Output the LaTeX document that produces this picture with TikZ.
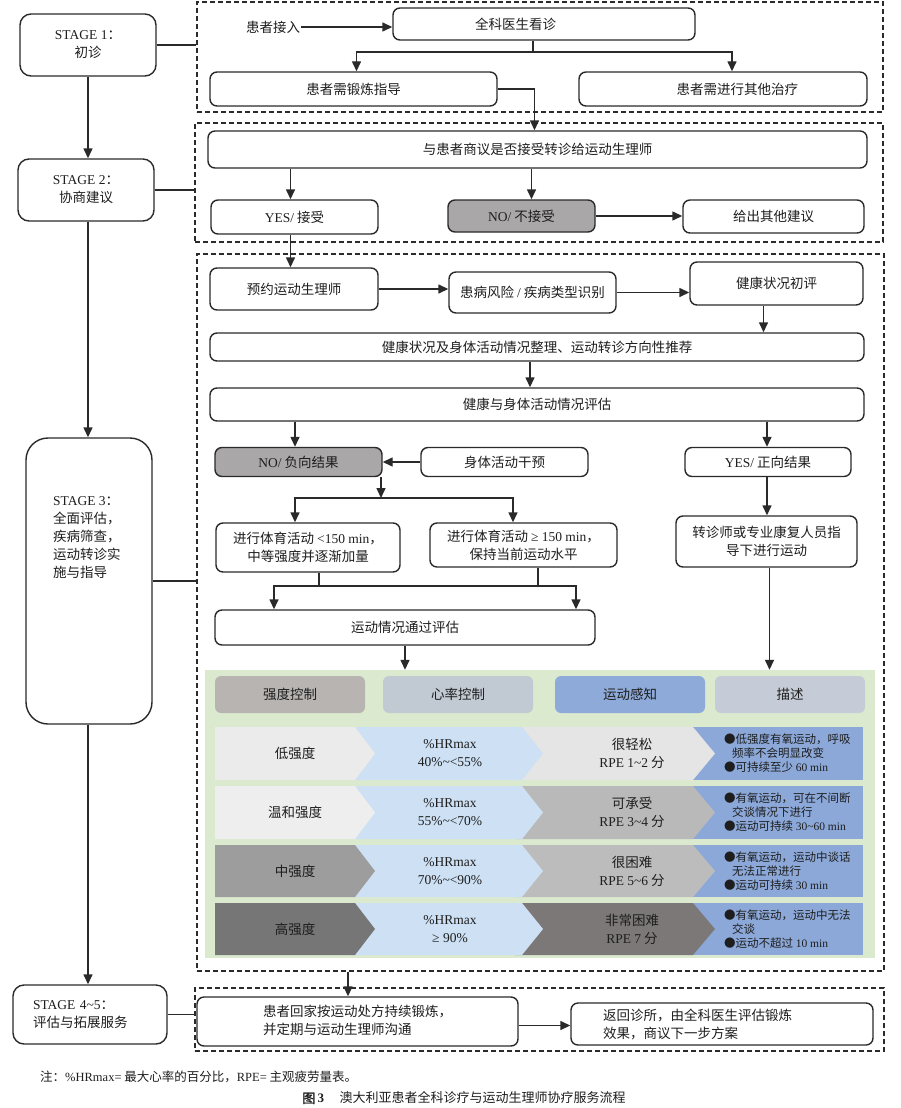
\documentclass[tikz,border=0pt]{standalone}
\usepackage{fontspec}
\setmainfont{Liberation Serif}
\newfontfamily\cjk{Noto Sans CJK SC}
\newfontfamily\cjkb[FakeBold=1.5]{Noto Sans CJK SC}
\usetikzlibrary{arrows.meta}
\newcommand\latn[1]{{\rmfamily #1}}
\newcommand\tfont{\cjk\fontsize{13.5}{18}\selectfont}
\newcommand\dfont{\cjk\fontsize{11.5}{14}\selectfont}
\definecolor{lc}{HTML}{2A2A2A}
\definecolor{tc}{HTML}{1E1E1E}
\definecolor{nogray}{HTML}{A9A7A7}
\definecolor{tgreen}{HTML}{DBEACF}
\definecolor{hA}{HTML}{B7B4B2}
\definecolor{hB}{HTML}{C1C9D3}
\definecolor{hC}{HTML}{8EAAD9}
\definecolor{hD}{HTML}{C6CCD7}
\definecolor{segblue}{HTML}{8BA8D8}
\definecolor{seglblue}{HTML}{CDE0F4}
\definecolor{gA}{HTML}{EBEBEB}
\definecolor{gB}{HTML}{EEEEEE}
\definecolor{gC}{HTML}{9D9D9D}
\definecolor{gD}{HTML}{767676}
\definecolor{gE}{HTML}{E5E5E5}
\definecolor{gF}{HTML}{B9B9B9}
\definecolor{gG}{HTML}{BCBCBC}
\definecolor{gH}{HTML}{7D7878}
% #1 top #2 bottom #3 seg1 colour #4 seg3 colour #5-#8 texts #9 name
\newcommand\tblrow[9]{%
  \fill[segblue] (693,#1) rectangle (863,#2);
  \fill[#4] (515,#1) -- (693,#1) -- (715,{(#1+#2)/2}) -- (693,#2) -- (515,#2) -- cycle;
  \fill[seglblue] (350,#1) -- (522,#1) -- (543,{(#1+#2)/2}) -- (522,#2) -- (350,#2) -- cycle;
  \fill[#3] (215,#1) -- (355,#1) -- (375,{(#1+#2)/2}) -- (355,#2) -- (215,#2) -- cycle;
  \node[tcell] (#9a) at (295,{(#1+#2)/2}) {#5};
  \node[tcell] (#9b) at (450,{(#1+#2)/2}) {#6};
  \node[tcell] (#9c) at (632,{(#1+#2)/2}) {#7};
  \node[dcell] (#9d) at (724,{(#1+#2)/2}) {#8};
}
\begin{document}
\begin{tikzpicture}[x=1pt,y=-1pt,
  box/.style={draw=lc, line width=1.4pt, rounded corners=7pt, fill=white, inner sep=2pt, font=\tfont, align=center, text=tc},
  gbox/.style={box, fill=nogray},
  dbox/.style={draw=lc, line width=1.3pt, dash pattern=on 5pt off 3pt, inner sep=0pt},
  arr/.style={-{Triangle[length=10pt,width=9pt]}, line width=1.4pt, draw=lc},
  ln/.style={line width=1.4pt, draw=lc},
  hcell/.style={rounded corners=6pt, minimum width=150pt, minimum height=37pt, font=\tfont, text=tc, inner sep=0pt},
  tcell/.style={font=\tfont, align=center, text=tc, inner sep=0pt},
  dcell/.style={font=\dfont, align=left, text=tc, anchor=west, inner sep=0pt}
]
\useasboundingbox (0,0) rectangle (901,1108);
\fill[white] (0,0) rectangle (901,1108);

% dashed stage frames
\node[dbox, minimum width=686pt, minimum height=110pt] (d1) at (540,57) {};
\node[dbox, minimum width=688pt, minimum height=119pt] (d2) at (539,182.5) {};
\node[dbox, minimum width=687pt, minimum height=717pt] (d3) at (540.5,612.5) {};
\node[dbox, minimum width=689pt, minimum height=63pt] (d4) at (539.5,1019.5) {};

% stage boxes
\node[box, minimum width=136pt, minimum height=62pt, rounded corners=11pt] (s1) at (88,45) {\latn{STAGE 1}：\\初诊};
\node[box, minimum width=136pt, minimum height=62pt, rounded corners=11pt] (s2) at (86,190) {\latn{STAGE 2}：\\协商建议};
\node[box, minimum width=126pt, minimum height=286pt, rounded corners=22pt] (s3) at (89,581) {};
\node[font=\tfont, align=left, anchor=west, inner sep=0pt, text=tc] (s3t) at (53,538) {\latn{STAGE 3}：\\全面评估，\\疾病筛查，\\运动转诊实\\施与指导};
\node[box, align=left, text width=114pt, inner xsep=20pt, minimum height=59pt, rounded corners=11pt] (s45) at (90,1014.5) {\latn{STAGE 4\textasciitilde5}：\\评估与拓展服务};

\draw[arr] (s1.south) -- (s1.south |- s2.north);
\draw[arr] ([xshift=2pt]s2.south) -- ([xshift=2pt]s2.south |- s3.north);
\draw[arr] ([xshift=-1pt]s3.south) -- ([xshift=-1pt]s3.south |- s45.north);
\draw[ln] (s1.east) -- (s1.east -| d1.west);
\draw[ln] (s2.east) -- (s2.east -| d2.west);
\draw[ln] (s3.east) -- (s3.east -| d3.west);
\draw[ln] (s45.east) -- (s45.east -| d4.west);

% stage 1
\node[font=\tfont, inner sep=1pt, text=tc] (in1) at (273,27) {患者接入};
\node[box, align=left, text width=138pt, inner xsep=82pt, minimum height=32pt] (gp) at (544,24) {全科医生看诊};
\node[box, minimum width=287pt, minimum height=34pt] (ex) at (353.5,89) {患者需锻炼指导};
\node[box, align=right, text width=150pt, inner xsep=69pt, minimum height=34pt] (ot) at (723,89) {患者需进行其他治疗};
\coordinate (j1) at (533,52);
\draw[arr] (in1.east) -- (in1.east -| gp.west);
\draw[ln] (gp.south -| j1) -- (j1);
\draw[arr] (j1) -| ([xshift=3pt]ex.north);
\draw[arr] (j1) -| ([xshift=9pt]ot.north);

% stage 2
\node[box, minimum width=659pt, minimum height=37pt] (cs) at (537.5,149.5) {与患者商议是否接受转诊给运动生理师};
\node[box, minimum width=167pt, minimum height=34pt] (yes) at (294.5,217) {\latn{YES/} 接受};
\node[gbox, minimum width=147pt, minimum height=32pt] (no) at (521.5,216) {\latn{NO/} 不接受};
\node[box, minimum width=181pt, minimum height=33pt] (oth) at (773.5,216.5) {给出其他建议};
\draw[arr] (ex.east) -| ([xshift=-3pt]cs.north);
\draw[arr] ([xshift=-4pt]yes.north |- cs.south) -- ([xshift=-4pt]yes.north);
\draw[arr] ([xshift=10pt]no.north |- cs.south) -- ([xshift=10pt]no.north);
\draw[arr] (no.east) -- (no.east -| oth.west);

% stage 3
\node[box, minimum width=168pt, minimum height=42pt] (ap) at (294,289) {预约运动生理师};
\node[box, minimum width=167pt, minimum height=41pt] (rk) at (532.5,292.5) {患病风险 \latn{/} 疾病类型识别};
\node[box, minimum width=173pt, minimum height=43pt] (hi) at (776.5,283.5) {健康状况初评};
\node[box, minimum width=654pt, minimum height=28pt] (sm) at (537,347) {健康状况及身体活动情况整理、运动转诊方向性推荐};
\node[box, minimum width=654pt, minimum height=33pt] (ev) at (537,404.5) {健康与身体活动情况评估};
\node[gbox, minimum width=167pt, minimum height=29pt] (neg) at (298.5,462) {\latn{NO/} 负向结果};
\node[box, minimum width=167pt, minimum height=29pt] (pa) at (504.5,462) {身体活动干预};
\node[box, minimum width=166pt, minimum height=29pt] (pos) at (768,462) {\latn{YES/} 正向结果};
\node[box, minimum width=184pt, minimum height=49pt] (lo) at (308,547.5) {进行体育活动 \latn{<150 min}，\\中等强度并逐渐加量};
\node[box, minimum width=187pt, minimum height=44pt] (hi2) at (523.5,545) {进行体育活动 \latn{≥ 150 min}，\\保持当前运动水平};
\node[box, minimum width=181pt, minimum height=51pt] (gd) at (766.5,541.5) {转诊师或专业康复人员指\\导下进行运动};
\node[box, minimum width=380pt, minimum height=35pt] (pe) at (405,627.5) {运动情况通过评估};

\draw[arr] ([xshift=-4pt]yes.south) -- ([xshift=-4pt]yes.south |- ap.north);
\draw[arr] (ap.east) -- (ap.east -| rk.west);
\draw[arr] (rk.east) -- (rk.east -| hi.west);
\draw[arr] ([xshift=-13pt]hi.south) -- ([xshift=-13pt]hi.south |- sm.north);
\draw[arr] ([xshift=-7pt]sm.south) -- ([xshift=-7pt]sm.south |- ev.north);
\draw[arr] ([xshift=-3.5pt]neg.north |- ev.south) -- ([xshift=-3.5pt]neg.north);
\draw[arr] ([xshift=-1pt]pos.north |- ev.south) -- ([xshift=-1pt]pos.north);
\draw[arr] (pa.west) -- (neg.east);
\coordinate (j2) at (381,498);
\draw[arr] (neg.south -| j2) -- (j2);
\draw[arr] (j2) -| ([xshift=-13pt]lo.north);
\draw[arr] (j2) -| ([xshift=-10.5pt]hi2.north);
\coordinate (j3) at (319,586);
\coordinate (j4) at (538,586);
\draw[ln] (lo.south -| j3) -- (j3) -- (j4) -- (hi2.south -| j4);
\draw[arr] (j3) -| ([xshift=-131pt]pe.north);
\draw[arr] (j4) -| ([xshift=171pt]pe.north);
\draw[arr] ([xshift=-1pt]pos.south) -- ([xshift=-1pt]pos.south |- gd.north);

% table
\node[fill=tgreen, minimum width=670pt, minimum height=288pt, inner sep=0pt] (tbl) at (540,814) {};
\node[hcell, fill=hA] (hd1) at (290,694.5) {强度控制};
\node[hcell, fill=hB] (hd2) at (458,694.5) {心率控制};
\node[hcell, fill=hC] (hd3) at (630,694.5) {运动感知};
\node[hcell, fill=hD] (hd4) at (790,694.5) {描述};
\tblrow{727}{780}{gA}{gE}{低强度}{\latn{\%HRmax}\\\latn{40\%\textasciitilde<55\%}}{很轻松\\\latn{RPE 1\textasciitilde2} 分}{●低强度有氧运动，呼吸\\\hspace*{8pt}频率不会明显改变\\●可持续至少 \latn{60 min}}{ra}
\tblrow{786}{839}{gB}{gF}{温和强度}{\latn{\%HRmax}\\\latn{55\%\textasciitilde<70\%}}{可承受\\\latn{RPE 3\textasciitilde4} 分}{●有氧运动，可在不间断\\\hspace*{8pt}交谈情况下进行\\●运动可持续 \latn{30\textasciitilde60 min}}{rb}
\tblrow{845}{897}{gC}{gG}{中强度}{\latn{\%HRmax}\\\latn{70\%\textasciitilde<90\%}}{很困难\\\latn{RPE 5\textasciitilde6} 分}{●有氧运动，运动中谈话\\\hspace*{8pt}无法正常进行\\●运动可持续 \latn{30 min}}{rc}
\tblrow{903}{955}{gD}{gH}{高强度}{\latn{\%HRmax}\\\latn{≥ 90\%}}{非常困难\\\latn{RPE 7} 分}{●有氧运动，运动中无法\\\hspace*{8pt}交谈\\●运动不超过 \latn{10 min}}{rd}

\draw[arr] (pe.south) -- (pe.south |- tbl.north);
\draw[arr] ([xshift=3pt]gd.south) -- ([xshift=3pt]gd.south |- tbl.north);

% stage 4-5
\node[box, minimum width=321pt, minimum height=49pt] (hm) at (357.5,1021.5) {\begin{tabular}{@{}l@{}}患者回家按运动处方持续锻炼，\\并定期与运动生理师沟通\end{tabular}};
\node[box, align=left, text width=238pt, inner xsep=32pt, minimum height=42pt] (rt) at (722,1024) {返回诊所，由全科医生评估锻炼\\效果，商议下一步方案};
\draw[arr] ([xshift=-9.5pt]hm.north |- d3.south) -- ([xshift=-9.5pt]hm.north);
\draw[arr] ([yshift=-4pt]hm.east) -- ([yshift=-4pt]hm.east -| rt.west);

% notes
\node[anchor=west, font=\cjk\fontsize{12.5}{15}\selectfont, inner sep=0pt, text=tc] (note) at (40,1077) {注：\latn{\%HRmax=} 最大心率的百分比，\latn{RPE=} 主观疲劳量表。};
\node[font=\cjk\fontsize{13}{15}\selectfont, inner sep=0pt, text=tc] (cap) at (464,1098) {{\cjkb 图}\,\latn{\textbf{3}}\hspace{1.2em}澳大利亚患者全科诊疗与运动生理师协疗服务流程};
\end{tikzpicture}
\end{document}
